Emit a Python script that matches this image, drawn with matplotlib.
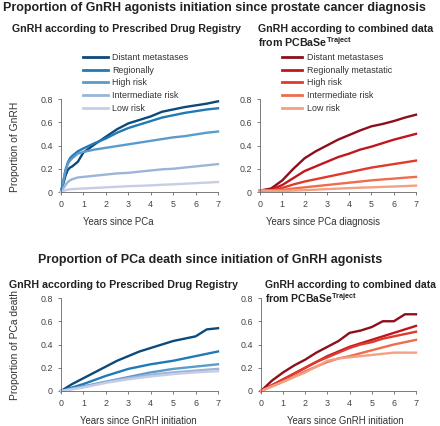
import matplotlib
matplotlib.use("Agg")
import matplotlib.pyplot as plt
from matplotlib.lines import Line2D

plt.rcParams['font.family'] = ['Liberation Sans', 'DejaVu Sans']
plt.rcParams['mathtext.fontset'] = 'custom'
plt.rcParams['mathtext.rm'] = 'Liberation Sans'
plt.rcParams['mathtext.bf'] = 'Liberation Sans:bold'

# ---------------- data ----------------
labels_reg = ["Distant metastases", "Regionally", "High risk", "Intermediate risk", "Low risk"]
labels_comb = ["Distant metastases", "Regionally metastatic", "High risk", "Intermediate risk", "Low risk"]

blues = ["#0d4a7c", "#1f7ab5", "#5b9bcc", "#9ab5d8", "#c8cde6"]
reds = ["#8c0f1c", "#c2161f", "#df3a2c", "#ee6d4d", "#f4a083"]

# Top-left: GnRH initiation, Prescribed Drug Registry
t_tl = [0, 0.1, 0.2, 0.3, 0.4, 0.5, 0.75, 1, 1.5, 2, 2.5, 3, 3.5, 4, 4.5, 5, 5.5, 6, 6.5, 7]
tl_distant = [0, 0.07, 0.14, 0.19, 0.21, 0.22, 0.26, 0.34, 0.41, 0.475, 0.54, 0.59, 0.62, 0.65, 0.69, 0.71, 0.73, 0.745, 0.76, 0.78]
tl_regional = [0, 0.09, 0.19, 0.25, 0.29, 0.31, 0.35, 0.375, 0.42, 0.46, 0.51, 0.55, 0.58, 0.61, 0.64, 0.66, 0.68, 0.695, 0.71, 0.72]
tl_high = [0, 0.09, 0.18, 0.24, 0.27, 0.29, 0.33, 0.345, 0.365, 0.38, 0.395, 0.41, 0.425, 0.44, 0.455, 0.47, 0.48, 0.495, 0.51, 0.52]
tl_inter = [0, 0.03, 0.06, 0.085, 0.10, 0.11, 0.125, 0.13, 0.14, 0.15, 0.16, 0.165, 0.175, 0.185, 0.195, 0.2, 0.21, 0.22, 0.23, 0.24]
tl_low = [0, 0.008, 0.015, 0.02, 0.023, 0.025, 0.028, 0.03, 0.035, 0.04, 0.045, 0.05, 0.053, 0.057, 0.062, 0.066, 0.071, 0.076, 0.081, 0.086]

# Top-right: GnRH initiation, combined data
t_tr = [0, 0.5, 1, 1.5, 2, 2.5, 3, 3.5, 4, 4.5, 5, 5.5, 6, 6.5, 7]
tr_distant = [0.012, 0.03, 0.1, 0.2, 0.29, 0.35, 0.4, 0.45, 0.49, 0.53, 0.565, 0.585, 0.61, 0.64, 0.665]
tr_regional = [0.012, 0.02, 0.06, 0.12, 0.18, 0.22, 0.26, 0.3, 0.33, 0.365, 0.39, 0.42, 0.45, 0.475, 0.50]
tr_high = [0.012, 0.015, 0.035, 0.065, 0.09, 0.11, 0.13, 0.15, 0.17, 0.19, 0.21, 0.225, 0.24, 0.255, 0.27]
tr_inter = [0.012, 0.012, 0.018, 0.03, 0.04, 0.05, 0.06, 0.07, 0.08, 0.09, 0.10, 0.108, 0.115, 0.123, 0.13]
tr_low = [0.012, 0.01, 0.008, 0.012, 0.016, 0.02, 0.025, 0.029, 0.033, 0.037, 0.04, 0.044, 0.047, 0.051, 0.055]

# Bottom-left: PCa death, Prescribed Drug Registry
t_b = [0, 0.5, 1, 1.5, 2, 2.5, 3, 3.5, 4, 4.5, 5, 5.5, 6, 6.5, 7]
bl_distant = [0, 0.06, 0.11, 0.16, 0.21, 0.26, 0.3, 0.34, 0.37, 0.4, 0.43, 0.45, 0.47, 0.53, 0.54]
bl_regional = [0, 0.03, 0.06, 0.095, 0.13, 0.16, 0.19, 0.21, 0.23, 0.245, 0.26, 0.28, 0.3, 0.32, 0.34]
bl_high = [0, 0.02, 0.04, 0.06, 0.08, 0.10, 0.12, 0.14, 0.16, 0.175, 0.19, 0.2, 0.21, 0.22, 0.23]
bl_inter = [0, 0.018, 0.035, 0.055, 0.075, 0.095, 0.11, 0.125, 0.14, 0.15, 0.16, 0.168, 0.175, 0.183, 0.19]
bl_low = [0, 0.015, 0.03, 0.05, 0.07, 0.085, 0.10, 0.113, 0.125, 0.135, 0.145, 0.153, 0.16, 0.165, 0.17]

# Bottom-right: PCa death, combined data
br_distant = [0, 0.09, 0.16, 0.22, 0.27, 0.33, 0.38, 0.43, 0.5, 0.52, 0.55, 0.6, 0.6, 0.66, 0.66]
br_regional = [0, 0.05, 0.1, 0.15, 0.2, 0.25, 0.3, 0.34, 0.38, 0.41, 0.44, 0.47, 0.5, 0.53, 0.56]
br_high = [0, 0.05, 0.1, 0.15, 0.2, 0.25, 0.29, 0.33, 0.37, 0.4, 0.42, 0.45, 0.47, 0.49, 0.51]
br_inter = [0, 0.04, 0.08, 0.125, 0.17, 0.21, 0.25, 0.28, 0.3, 0.325, 0.35, 0.375, 0.4, 0.42, 0.44]
br_low = [0, 0.04, 0.08, 0.12, 0.16, 0.21, 0.26, 0.28, 0.29, 0.3, 0.31, 0.32, 0.33, 0.33, 0.33]

xticks = [0, 1, 2, 3, 4, 5, 6, 7]
yticks = [0, 0.2, 0.4, 0.6, 0.8]
yticklabels = ["0", "0.2", "0.4", "0.6", "0.8"]

# ---------------- figure ----------------
W, H = 440, 426
fig = plt.figure(figsize=(W / 100, H / 100), dpi=100)

def px_axes(x0, x1, ytop, ybot):
    return fig.add_axes([x0 / W, 1 - ybot / H, (x1 - x0) / W, (ybot - ytop) / H])

def style(ax):
    ax.set_xlim(0, 7)
    ax.set_ylim(0, 0.8)
    for s in ["top", "right"]:
        ax.spines[s].set_visible(False)
    for s in ["left", "bottom"]:
        ax.spines[s].set_color("#666666")
        ax.spines[s].set_linewidth(0.6)
    ax.set_xticks(xticks)
    ax.set_yticks(yticks)
    ax.set_yticklabels(yticklabels)
    ax.tick_params(axis="both", length=2.5, width=0.6, color="#666666",
                   labelsize=6.4, labelcolor="#444444")
    ax.tick_params(axis="x", pad=3.5)
    ax.tick_params(axis="y", pad=3.2)
    ax.patch.set_alpha(0)

def plot_series(ax, t, series, colors):
    handles = []
    for ys, c in zip(series, colors):
        h, = ax.plot(t, ys, color=c, lw=1.7, solid_joinstyle="round", clip_on=False)
        handles.append(h)
    return handles

ax_tl = px_axes(61, 218, 99, 192)
ax_tr = px_axes(260, 416, 99, 192)
ax_bl = px_axes(61, 218, 298, 391)
ax_br = px_axes(261, 416, 298, 391)
for ax in (ax_tl, ax_tr, ax_bl, ax_br):
    style(ax)

h_tl = plot_series(ax_tl, t_tl, [tl_distant, tl_regional, tl_high, tl_inter, tl_low], blues)
h_tr = plot_series(ax_tr, t_tr, [tr_distant, tr_regional, tr_high, tr_inter, tr_low], reds)
plot_series(ax_bl, t_b, [bl_distant, bl_regional, bl_high, bl_inter, bl_low], blues)
plot_series(ax_br, t_b, [br_distant, br_regional, br_high, br_inter, br_low], reds)

# legends
def make_legend(handles, labels, x, y, hl):
    hs = [Line2D([], [], color=h.get_color(), lw=2.0) for h in handles]
    fig.legend(hs, labels, loc="upper left", bbox_to_anchor=(x / W, 1 - y / H),
               frameon=False, fontsize=6.4, labelspacing=0.42, handlelength=hl,
               handletextpad=0.5, borderaxespad=0, borderpad=0,
               labelcolor="#333333")

make_legend(h_tl, labels_reg, 83, 53, 2.8)
make_legend(h_tr, labels_comb, 282, 53, 2.3)

# titles
tkw = dict(fontweight="bold", color="#222222")
fig.text(214 / W, 1 - 8 / H, "Proportion of GnRH agonists initiation since prostate cancer diagnosis",
         ha="center", va="center", fontsize=9.0, **tkw)
fig.text(12 / W, 1 - 29 / H, "GnRH according to Prescribed Drug Registry",
         ha="left", va="center", fontsize=7.65, **tkw)
fig.text(258 / W, 1 - 29 / H, "GnRH according to combined data",
         ha="left", va="center", fontsize=7.65, **tkw)
fig.text(258 / W, 1 - 42 / H, r"from PCBaSe$^{\mathbf{Traject}}$",
         ha="left", va="center", fontsize=7.65, **tkw)

fig.text(210 / W, 1 - 260 / H, "Proportion of PCa death since initiation of GnRH agonists",
         ha="center", va="center", fontsize=9.0, **tkw)
fig.text(9 / W, 1 - 285 / H, "GnRH according to Prescribed Drug Registry",
         ha="left", va="center", fontsize=7.65, **tkw)
fig.text(265 / W, 1 - 285 / H, "GnRH according to combined data",
         ha="left", va="center", fontsize=7.45, **tkw)
fig.text(265 / W, 1 - 298 / H, r"from PCBaSe$^{\mathbf{Traject}}$",
         ha="left", va="center", fontsize=7.45, **tkw)

# axis labels
lab_kw = dict(fontsize=6.9, color="#333333")
fig.text(118 / W, 1 - 222 / H, "Years since PCa", ha="center", va="center", **lab_kw)
fig.text(323 / W, 1 - 222 / H, "Years since PCa diagnosis", ha="center", va="center", **lab_kw)
fig.text(138 / W, 1 - 421 / H, "Years since GnRH initiation", ha="center", va="center", **lab_kw)
fig.text(345 / W, 1 - 421 / H, "Years since GnRH initiation", ha="center", va="center", **lab_kw)
ylab_kw = dict(fontsize=7.4, color="#333333")
fig.text(15 / W, 1 - 147 / H, "Proportion of GnRH", ha="center", va="center", rotation=90, **ylab_kw)
fig.text(15 / W, 1 - 345 / H, "Proportion of PCa death", ha="center", va="center", rotation=90, **ylab_kw)

fig.savefig("out.png", dpi=100)
